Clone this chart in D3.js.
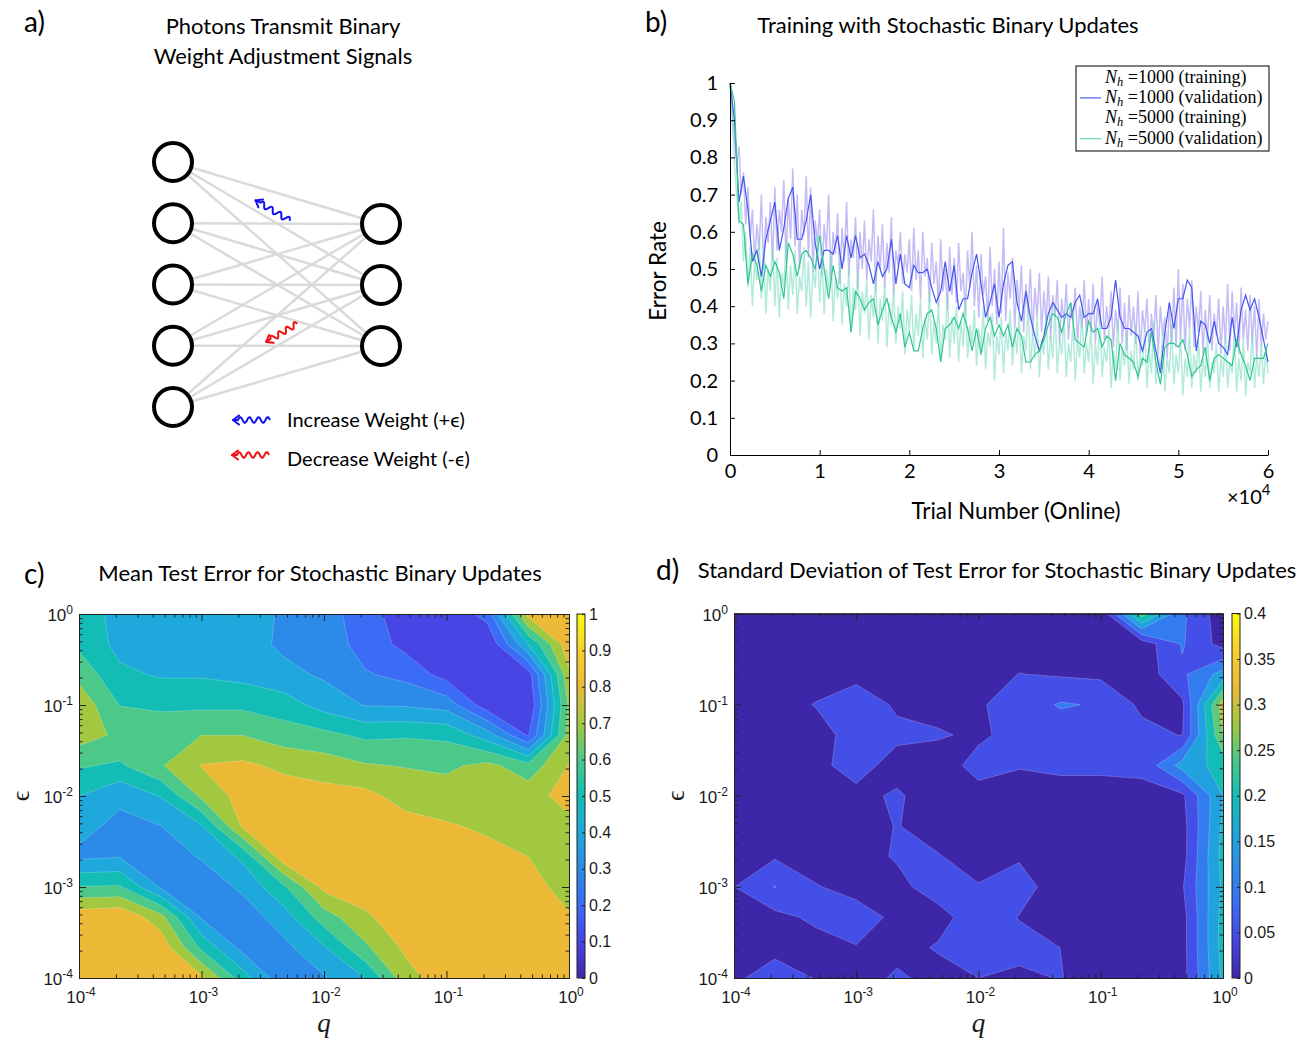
<!DOCTYPE html>
<html>
<head>
<meta charset="utf-8">
<title>Stochastic binary updates</title>
<script src="https://cdn.jsdelivr.net/npm/d3@7"></script>
<style>
  body { margin: 0; background: #fff; }
  text { font-family: Lato, "Open Sans", sans-serif; fill: #000; }
  .mat text { font-family: "Liberation Sans", Arial, sans-serif; fill: #1a1a1a; }
  .serif { font-family: "Liberation Serif", "DejaVu Serif", serif !important; }
</style>
</head>
<body>
<svg id="figure" width="1316" height="1042"></svg>
<script>

// ---------------- data ----------------

// a) network sketch: nodes per layer
const layerSizes = [5, 3];

// b) error rate vs trial number
const trainStep = 250;
const validStep = 500;

const trainErr1000 = [
    1.00, 0.93, 0.85, 0.78, 0.83, 0.70, 0.76, 0.62, 0.72, 0.58, 0.66, 0.52, 0.62, 0.55, 0.70, 0.50, 0.64, 0.57, 0.68, 0.52,
    0.72, 0.55, 0.66, 0.60, 0.74, 0.52, 0.69, 0.58, 0.77, 0.56, 0.70, 0.50, 0.66, 0.59, 0.75, 0.53, 0.72, 0.49, 0.63, 0.57,
    0.66, 0.48, 0.62, 0.55, 0.70, 0.47, 0.60, 0.54, 0.65, 0.46, 0.61, 0.52, 0.68, 0.48, 0.58, 0.53, 0.64, 0.45, 0.60, 0.50,
    0.63, 0.47, 0.58, 0.52, 0.66, 0.44, 0.59, 0.50, 0.62, 0.45, 0.57, 0.49, 0.64, 0.43, 0.55, 0.51, 0.60, 0.46, 0.54, 0.49,
    0.58, 0.44, 0.61, 0.47, 0.55, 0.42, 0.60, 0.48, 0.53, 0.41, 0.57, 0.46, 0.52, 0.40, 0.58, 0.44, 0.50, 0.39, 0.56, 0.43,
    0.53, 0.41, 0.57, 0.44, 0.49, 0.38, 0.55, 0.45, 0.60, 0.40, 0.51, 0.37, 0.54, 0.43, 0.48, 0.36, 0.56, 0.40, 0.50, 0.35,
    0.52, 0.38, 0.61, 0.36, 0.49, 0.42, 0.53, 0.34, 0.47, 0.39, 0.51, 0.33, 0.46, 0.38, 0.50, 0.32, 0.45, 0.37, 0.49, 0.33,
    0.44, 0.36, 0.48, 0.31, 0.43, 0.37, 0.47, 0.30, 0.42, 0.35, 0.46, 0.31, 0.41, 0.36, 0.45, 0.30, 0.40, 0.34, 0.47, 0.32,
    0.42, 0.33, 0.46, 0.30, 0.41, 0.35, 0.48, 0.31, 0.40, 0.34, 0.44, 0.29, 0.39, 0.33, 0.45, 0.30, 0.41, 0.28, 0.43, 0.32,
    0.40, 0.30, 0.44, 0.27, 0.39, 0.33, 0.42, 0.28, 0.38, 0.31, 0.43, 0.27, 0.40, 0.32, 0.37, 0.26, 0.41, 0.30, 0.45, 0.29,
    0.50, 0.31, 0.46, 0.28, 0.42, 0.34, 0.47, 0.29, 0.40, 0.33, 0.44, 0.27, 0.39, 0.31, 0.43, 0.28, 0.38, 0.32, 0.42, 0.27,
    0.40, 0.30, 0.46, 0.28, 0.44, 0.33, 0.41, 0.27, 0.45, 0.31, 0.39, 0.28, 0.43, 0.30, 0.40, 0.26, 0.42, 0.29, 0.38, 0.31,
    0.36
];

const trainErr5000 = [
    1.00, 0.90, 0.78, 0.70, 0.62, 0.68, 0.52, 0.60, 0.45, 0.56, 0.40, 0.52, 0.47, 0.58, 0.42, 0.55, 0.38, 0.50, 0.44, 0.57,
    0.40, 0.53, 0.37, 0.49, 0.45, 0.58, 0.39, 0.51, 0.43, 0.55, 0.38, 0.48, 0.44, 0.56, 0.40, 0.52, 0.37, 0.50, 0.45, 0.59,
    0.41, 0.54, 0.38, 0.50, 0.44, 0.55, 0.36, 0.48, 0.42, 0.52, 0.35, 0.46, 0.40, 0.50, 0.33, 0.45, 0.39, 0.49, 0.32, 0.44,
    0.38, 0.47, 0.31, 0.43, 0.37, 0.48, 0.30, 0.42, 0.36, 0.46, 0.29, 0.41, 0.35, 0.45, 0.30, 0.40, 0.34, 0.44, 0.27, 0.39,
    0.33, 0.43, 0.28, 0.38, 0.32, 0.42, 0.26, 0.37, 0.31, 0.44, 0.27, 0.36, 0.30, 0.41, 0.25, 0.35, 0.31, 0.43, 0.26, 0.37,
    0.30, 0.40, 0.25, 0.36, 0.29, 0.42, 0.26, 0.35, 0.30, 0.39, 0.24, 0.34, 0.28, 0.40, 0.23, 0.33, 0.29, 0.38, 0.20, 0.32,
    0.27, 0.37, 0.22, 0.33, 0.28, 0.39, 0.24, 0.34, 0.27, 0.38, 0.22, 0.32, 0.28, 0.41, 0.23, 0.33, 0.26, 0.37, 0.21, 0.31,
    0.27, 0.38, 0.23, 0.32, 0.26, 0.40, 0.22, 0.31, 0.27, 0.37, 0.21, 0.30, 0.25, 0.36, 0.20, 0.31, 0.26, 0.39, 0.22, 0.30,
    0.25, 0.35, 0.19, 0.30, 0.24, 0.37, 0.21, 0.29, 0.25, 0.34, 0.18, 0.28, 0.23, 0.36, 0.20, 0.29, 0.24, 0.33, 0.19, 0.28,
    0.23, 0.35, 0.20, 0.27, 0.24, 0.34, 0.18, 0.28, 0.22, 0.36, 0.19, 0.27, 0.23, 0.33, 0.17, 0.26, 0.22, 0.35, 0.19, 0.27,
    0.22, 0.32, 0.16, 0.26, 0.21, 0.34, 0.18, 0.27, 0.22, 0.31, 0.17, 0.26, 0.21, 0.33, 0.18, 0.25, 0.22, 0.30, 0.17, 0.26,
    0.21, 0.32, 0.18, 0.25, 0.22, 0.34, 0.17, 0.26, 0.20, 0.31, 0.16, 0.25, 0.22, 0.33, 0.18, 0.27, 0.21, 0.30, 0.19, 0.28,
    0.22
];

const validErr1000 = [
    1.00, 0.90, 0.68, 0.75, 0.66, 0.52, 0.55, 0.48, 0.58, 0.63,
    0.68, 0.55, 0.61, 0.69, 0.72, 0.58, 0.58, 0.63, 0.70, 0.57,
    0.50, 0.55, 0.55, 0.54, 0.59, 0.50, 0.59, 0.53, 0.59, 0.53,
    0.54, 0.51, 0.46, 0.52, 0.48, 0.50, 0.58, 0.46, 0.54, 0.46,
    0.45, 0.51, 0.49, 0.49, 0.50, 0.45, 0.41, 0.44, 0.52, 0.44,
    0.51, 0.39, 0.42, 0.42, 0.49, 0.54, 0.46, 0.37, 0.41, 0.46,
    0.37, 0.46, 0.51, 0.52, 0.41, 0.36, 0.44, 0.37, 0.32, 0.28,
    0.32, 0.38, 0.41, 0.39, 0.37, 0.38, 0.37, 0.41, 0.43, 0.37,
    0.38, 0.38, 0.42, 0.34, 0.34, 0.37, 0.47, 0.37, 0.34, 0.34,
    0.33, 0.32, 0.28, 0.33, 0.34, 0.28, 0.22, 0.33, 0.41, 0.34,
    0.42, 0.42, 0.47, 0.45, 0.28, 0.36, 0.35, 0.30, 0.36, 0.30,
    0.29, 0.27, 0.37, 0.29, 0.39, 0.43, 0.39, 0.42, 0.37, 0.31,
    0.25
];

const validErr5000 = [
    1.00, 0.95, 0.63, 0.62, 0.46, 0.54, 0.51, 0.44, 0.51, 0.48,
    0.52, 0.49, 0.42, 0.57, 0.54, 0.48, 0.54, 0.55, 0.53, 0.50,
    0.59, 0.50, 0.42, 0.51, 0.45, 0.44, 0.45, 0.33, 0.44, 0.42,
    0.39, 0.41, 0.42, 0.35, 0.39, 0.42, 0.37, 0.33, 0.38, 0.29,
    0.33, 0.28, 0.28, 0.34, 0.38, 0.39, 0.34, 0.25, 0.34, 0.35,
    0.37, 0.34, 0.38, 0.34, 0.28, 0.34, 0.27, 0.34, 0.37, 0.32,
    0.35, 0.32, 0.35, 0.29, 0.34, 0.32, 0.25, 0.25, 0.27, 0.28,
    0.31, 0.35, 0.38, 0.37, 0.33, 0.38, 0.41, 0.31, 0.30, 0.29,
    0.36, 0.33, 0.34, 0.29, 0.32, 0.31, 0.20, 0.30, 0.27, 0.26,
    0.25, 0.21, 0.26, 0.25, 0.33, 0.25, 0.19, 0.29, 0.30, 0.30,
    0.29, 0.31, 0.27, 0.21, 0.23, 0.24, 0.29, 0.20, 0.26, 0.27,
    0.26, 0.25, 0.24, 0.31, 0.27, 0.24, 0.20, 0.26, 0.26, 0.26,
    0.30
];

const trialTicks = [0, 10000, 20000, 30000, 40000, 50000, 60000];
const errorTicks = [0, 0.1, 0.2, 0.3, 0.4, 0.5, 0.6, 0.7, 0.8, 0.9, 1];

const legendEntries = [
    { units: 1000, set: 'training' },
    { units: 1000, set: 'validation' },
    { units: 5000, set: 'training' },
    { units: 5000, set: 'validation' }
];

// c), d) sweep grid: q = 10^(-4 + i/3) across, eps = 10^(-r/3) down (row 0 is eps = 1)
const gridSize = 13;
const decadeExponents = [-4, -3, -2, -1, 0];

const meanErr = [
    [0.55, 0.47, 0.45, 0.45, 0.44, 0.39, 0.35, 0.24, 0.15, 0.12, 0.24, 0.84, 0.86],
    [0.58, 0.47, 0.45, 0.45, 0.45, 0.38, 0.36, 0.26, 0.17, 0.11, 0.105, 0.50, 0.87],
    [0.67, 0.52, 0.49, 0.49, 0.47, 0.43, 0.385, 0.31, 0.27, 0.16, 0.107, 0.15, 0.78],
    [0.77, 0.597, 0.58, 0.58, 0.58, 0.55, 0.46, 0.395, 0.39, 0.36, 0.14, 0.105, 0.72],
    [0.745, 0.68, 0.67, 0.70, 0.70, 0.65, 0.63, 0.58, 0.59, 0.58, 0.45, 0.19, 0.74],
    [0.61, 0.585, 0.69, 0.805, 0.82, 0.78, 0.75, 0.71, 0.695, 0.68, 0.73, 0.64, 0.805],
    [0.50, 0.42, 0.505, 0.72, 0.84, 0.85, 0.84, 0.83, 0.76, 0.75, 0.76, 0.76, 0.84],
    [0.43, 0.375, 0.398, 0.49, 0.81, 0.86, 0.88, 0.87, 0.84, 0.81, 0.785, 0.77, 0.77],
    [0.38, 0.395, 0.34, 0.41, 0.52, 0.86, 0.87, 0.88, 0.87, 0.86, 0.83, 0.80, 0.74],
    [0.605, 0.61, 0.39, 0.33, 0.42, 0.58, 0.83, 0.86, 0.88, 0.88, 0.87, 0.84, 0.76],
    [0.87, 0.89, 0.74, 0.39, 0.34, 0.45, 0.65, 0.78, 0.87, 0.88, 0.88, 0.86, 0.81],
    [0.87, 0.88, 0.87, 0.58, 0.37, 0.37, 0.49, 0.68, 0.82, 0.86, 0.88, 0.87, 0.86],
    [0.86, 0.87, 0.86, 0.82, 0.55, 0.33, 0.39, 0.50, 0.76, 0.86, 0.87, 0.87, 0.87]
];
const meanLevels = [0, 0.1, 0.2, 0.3, 0.4, 0.5, 0.6, 0.7, 0.8, 0.9];
const meanTicks = [0, 0.1, 0.2, 0.3, 0.4, 0.5, 0.6, 0.7, 0.8, 0.9, 1];

const stdErr = [
    [0.02, 0.02, 0.02, 0.02, 0.02, 0.02, 0.02, 0.02, 0.02, 0.01, 0.28, 0.11, 0.02],
    [0.02, 0.02, 0.02, 0.02, 0.02, 0.02, 0.02, 0.03, 0.03, 0.02, 0.02, 0.105, 0.03],
    [0.02, 0.02, 0.03, 0.04, 0.03, 0.02, 0.03, 0.051, 0.045, 0.04, 0.02, 0.09, 0.17],
    [0.02, 0.03, 0.052, 0.07, 0.045, 0.03, 0.045, 0.07, 0.105, 0.095, 0.04, 0.04, 0.33],
    [0.02, 0.02, 0.03, 0.07, 0.058, 0.056, 0.04, 0.07, 0.07, 0.065, 0.065, 0.048, 0.30],
    [0.02, 0.02, 0.04, 0.065, 0.035, 0.02, 0.07, 0.053, 0.06, 0.06, 0.06, 0.17, 0.22],
    [0.02, 0.02, 0.02, 0.04, 0.055, 0.03, 0.03, 0.03, 0.03, 0.03, 0.037, 0.04, 0.20],
    [0.02, 0.02, 0.02, 0.03, 0.052, 0.03, 0.02, 0.02, 0.02, 0.02, 0.02, 0.03, 0.21],
    [0.03, 0.045, 0.03, 0.03, 0.055, 0.053, 0.03, 0.045, 0.02, 0.02, 0.02, 0.03, 0.22],
    [0.049, 0.102, 0.053, 0.035, 0.035, 0.075, 0.053, 0.07, 0.025, 0.02, 0.02, 0.045, 0.21],
    [0.03, 0.035, 0.06, 0.07, 0.04, 0.03, 0.08, 0.048, 0.03, 0.02, 0.02, 0.03, 0.22],
    [0.02, 0.035, 0.03, 0.048, 0.03, 0.055, 0.052, 0.065, 0.05, 0.02, 0.02, 0.03, 0.22],
    [0.04, 0.075, 0.048, 0.02, 0.06, 0.03, 0.05, 0.04, 0.052, 0.03, 0.02, 0.03, 0.21]
];
const stdLevels = [0, 0.05, 0.1, 0.15, 0.2, 0.25, 0.3, 0.35];
const stdTicks = [0, 0.05, 0.1, 0.15, 0.2, 0.25, 0.3, 0.35, 0.4];

// ---------------- drawing ----------------

const svg = d3.select('#figure');
const defs = svg.append('defs');

const parula = d3.piecewise(d3.interpolateRgb, [
    '#3e26a8', '#4745e3', '#3a6cf6', '#2c8be9', '#1ea8dc', '#13bdb5',
    '#4cc889', '#a2c840', '#ecb936', '#f7d02c', '#f9fb0e'
]);

function panelLabel(x, y, txt) {
    svg.append('text').attr('x', x).attr('y', y).attr('font-size', 28).text(txt);
}

function centeredTitle(x, y, txt) {
    svg.append('text').attr('x', x).attr('y', y)
        .attr('text-anchor', 'middle').attr('font-size', 22).text(txt);
}

function wavyArrow(g, x0, y0, x1, y1, color) {
    var dx = x1 - x0, dy = y1 - y0, len = Math.hypot(dx, dy);
    var ux = dx / len, uy = dy / len, nx = -uy, ny = ux;
    var waveLen = len - 5, pts = [];
    for (var s = 0; s <= waveLen; s += 0.5) {
        var a = 2.8 * Math.sin(s / waveLen * Math.PI * 7);
        pts.push([x0 + ux * s + nx * a, y0 + uy * s + ny * a]);
    }
    pts.push([x1, y1]);
    g.append('path').attr('d', d3.line()(pts))
        .attr('fill', 'none').attr('stroke', color).attr('stroke-width', 2);
    var h = 7.5, ang = 0.65;
    [-1, 1].forEach(function(sg) {
        var c = Math.cos(ang), sn = Math.sin(ang) * sg;
        var bx = -ux * c + uy * sn, by = -uy * c - ux * sn;
        g.append('line').attr('x1', x1).attr('y1', y1)
            .attr('x2', x1 + bx * h).attr('y2', y1 + by * h)
            .attr('stroke', color).attr('stroke-width', 2).attr('stroke-linecap', 'round');
    });
}

// ---- a) ----
(function() {
    var g = svg.append('g');
    panelLabel(24, 32, 'a)');
    centeredTitle(283, 34, 'Photons Transmit Binary');
    centeredTitle(283, 64, 'Weight Adjustment Signals');

    var layerX = [173, 381];
    var ys = [
        d3.scalePoint().domain(d3.range(layerSizes[0])).range([162, 407]),
        d3.scalePoint().domain(d3.range(layerSizes[1])).range([224, 346])
    ];
    var nodes = layerSizes.map(function(n, l) {
        return d3.range(n).map(function(i) { return { x: layerX[l], y: ys[l](i) }; });
    });
    var edges = d3.cross(nodes[0], nodes[1]);

    g.selectAll('line.edge').data(edges).join('line')
        .attr('class', 'edge')
        .attr('x1', d => d[0].x).attr('y1', d => d[0].y)
        .attr('x2', d => d[1].x).attr('y2', d => d[1].y)
        .attr('stroke', '#dadada').attr('stroke-width', 2.5);

    g.selectAll('circle').data(nodes.flat()).join('circle')
        .attr('cx', d => d.x).attr('cy', d => d.y).attr('r', 19)
        .attr('fill', '#fff').attr('stroke', '#000').attr('stroke-width', 4);

    // photons travelling back along two of the connections
    function onEdge(a, b, t0, t1, off, color) {
        var dx = b.x - a.x, dy = b.y - a.y, L = Math.hypot(dx, dy);
        var nx = dy / L * off, ny = -dx / L * off;
        wavyArrow(g, a.x + dx * t0 + nx, a.y + dy * t0 + ny,
            a.x + dx * t1 + nx, a.y + dy * t1 + ny, color);
    }
    onEdge(nodes[0][0], nodes[1][1], 0.54, 0.375, 9, '#1010f0');
    onEdge(nodes[0][4], nodes[1][1], 0.62, 0.47, 9, '#f01010');

    wavyArrow(g, 270, 420, 233, 420, '#1010f0');
    wavyArrow(g, 269, 455, 232, 455, '#f01010');
    g.append('text').attr('x', 287).attr('y', 427).attr('font-size', 20).text('Increase Weight (+ϵ)');
    g.append('text').attr('x', 287).attr('y', 466).attr('font-size', 20).text('Decrease Weight (-ϵ)');
})();

// ---- b) ----
(function() {
    var g = svg.append('g');
    panelLabel(645, 32, 'b)');
    centeredTitle(948, 33, 'Training with Stochastic Binary Updates');

    var x = d3.scaleLinear().domain([0, 60000]).range([730, 1268]);
    var y = d3.scaleLinear().domain([0, 1]).range([455, 83]);

    function series(step) {
        return d3.line().x((d, i) => x(i * step)).y(d => y(d));
    }

    g.append('path').datum(trainErr1000).attr('d', series(trainStep))
        .attr('fill', 'none').attr('stroke', '#9d90ee').attr('stroke-opacity', 0.6).attr('stroke-width', 1.5);
    g.append('path').datum(trainErr5000).attr('d', series(trainStep))
        .attr('fill', 'none').attr('stroke', '#7fdcc4').attr('stroke-opacity', 0.6).attr('stroke-width', 1.5);
    g.append('path').datum(validErr1000).attr('d', series(validStep))
        .attr('fill', 'none').attr('stroke', '#4456ee').attr('stroke-width', 1.2);
    g.append('path').datum(validErr5000).attr('d', series(validStep))
        .attr('fill', 'none').attr('stroke', '#2fc68e').attr('stroke-width', 1.2);

    var xAxis = g.append('g').attr('transform', 'translate(0,455)')
        .call(d3.axisBottom(x).tickValues(trialTicks).tickSize(-5).tickSizeOuter(0)
            .tickPadding(9).tickFormat(d => d / 10000));
    var yAxis = g.append('g').attr('transform', 'translate(730,0)')
        .call(d3.axisLeft(y).tickValues(errorTicks).tickSize(-5).tickSizeOuter(0)
            .tickPadding(12).tickFormat(d => (d === 0 || d === 1) ? d : d3.format('.1f')(d)));
    [xAxis, yAxis].forEach(function(a) {
        a.selectAll('text').attr('font-size', 20).attr('font-family', 'Lato, sans-serif').attr('fill', '#000');
        a.selectAll('path, line').attr('stroke', '#000');
    });

    var sci = g.append('text').attr('x', 1227).attr('y', 504).attr('font-size', 20);
    sci.append('tspan').text('×10');
    sci.append('tspan').attr('dy', -9).attr('font-size', 15).text('4');

    g.append('text').attr('transform', 'translate(666,271) rotate(-90)')
        .attr('text-anchor', 'middle').attr('font-size', 22.5).text('Error Rate');
    g.append('text').attr('x', 1016).attr('y', 519)
        .attr('text-anchor', 'middle').attr('font-size', 22.5).text('Trial Number (Online)');

    // legend
    var lineColour = { 1000: '#4a5cf0', 5000: '#5fd8aa' };
    var lg = g.append('g');
    lg.append('rect').attr('x', 1076).attr('y', 66).attr('width', 193).attr('height', 85)
        .attr('fill', '#fff').attr('stroke', '#000').attr('stroke-width', 1);
    var rows = lg.selectAll('g.row').data(legendEntries).join('g')
        .attr('class', 'row')
        .attr('transform', (d, i) => 'translate(0,' + (77.5 + i * 20.4) + ')');
    rows.filter(d => d.set === 'validation').append('line')
        .attr('x1', 1080).attr('x2', 1101).attr('y1', 0).attr('y2', 0)
        .attr('stroke', d => lineColour[d.units]).attr('stroke-width', 1.2);
    var t = rows.append('text').attr('class', 'serif').attr('x', 1105).attr('y', 5).attr('font-size', 18);
    t.append('tspan').attr('font-style', 'italic').text('N');
    t.append('tspan').attr('font-style', 'italic').attr('font-size', 12.5).attr('dy', 3).text('h');
    t.append('tspan').attr('dy', -3).text(d => ' =' + d.units + ' (' + d.set + ')');
})();

// ---- c), d) contour panels ----
var grad = defs.append('linearGradient').attr('id', 'parulaGrad')
    .attr('x1', 0).attr('y1', 1).attr('x2', 0).attr('y2', 0);
grad.selectAll('stop').data(d3.range(0, 1.0001, 0.025)).join('stop')
    .attr('offset', d => d).attr('stop-color', d => parula(d));

function powerLabel(sel) {
    sel.append('tspan').text('10');
    sel.append('tspan').attr('dy', -7).attr('font-size', 12).text(e => e);
}

function contourPanel(grid, levels, cmax, ticks, fmt, box, cbarX, id) {
    var g = svg.append('g').attr('class', 'mat');
    var qScale = d3.scaleLog().domain([1e-4, 1]).range([box.x0, box.x1]);
    var eScale = d3.scaleLog().domain([1e-4, 1]).range([box.y1, box.y0]);

    defs.append('clipPath').attr('id', 'clip-' + id).append('rect')
        .attr('x', box.x0).attr('y', box.y0)
        .attr('width', box.x1 - box.x0).attr('height', box.y1 - box.y0);

    // contour coords: grid sample k sits at k + 0.5
    var toPlot = d3.geoTransform({
        point: function(cx, cy) {
            this.stream.point(
                qScale(Math.pow(10, -4 + (cx - 0.5) / 3)),
                eScale(Math.pow(10, -(cy - 0.5) / 3)));
        }
    });
    var path = d3.geoPath(toPlot);
    var bands = d3.contours().size([gridSize, gridSize]).thresholds(levels)(grid.flat());

    g.append('g').attr('clip-path', 'url(#clip-' + id + ')')
        .selectAll('path').data(bands).join('path')
        .attr('d', path)
        .attr('fill', d => parula(d.value / cmax))
        .attr('stroke', 'rgba(255,255,255,0.35)').attr('stroke-width', 0.6);

    var majors = decadeExponents.map(e => Math.pow(10, e));
    var minors = [];
    decadeExponents.slice(0, -1).forEach(function(e) {
        for (var m = 2; m < 10; m++) minors.push(m * Math.pow(10, e));
    });

    var sides = [
        [d3.axisBottom(qScale), 'translate(0,' + box.y1 + ')'],
        [d3.axisTop(qScale), 'translate(0,' + box.y0 + ')'],
        [d3.axisLeft(eScale), 'translate(' + box.x0 + ',0)'],
        [d3.axisRight(eScale), 'translate(' + box.x1 + ',0)']
    ];
    sides.forEach(function(s) {
        g.append('g').attr('transform', s[1]).attr('color', '#222')
            .call(s[0].tickValues(minors).tickSize(-3.5).tickSizeOuter(0).tickFormat(''));
        g.append('g').attr('transform', s[1]).attr('color', '#222')
            .call(s[0].tickValues(majors).tickSize(-7).tickSizeOuter(0).tickFormat(''));
    });

    g.append('g').selectAll('text').data(decadeExponents).join('text')
        .attr('x', e => qScale(Math.pow(10, e)) + 2).attr('y', box.y1 + 25)
        .attr('text-anchor', 'middle').attr('font-size', 17)
        .call(powerLabel);
    g.append('g').selectAll('text').data(decadeExponents).join('text')
        .attr('x', box.x0 - 6).attr('y', e => eScale(Math.pow(10, e)) + 7)
        .attr('text-anchor', 'end').attr('font-size', 17)
        .call(powerLabel);

    // colour bar
    var cScale = d3.scaleLinear().domain([0, cmax]).range([box.y1, box.y0]);
    g.append('rect').attr('x', cbarX).attr('y', box.y0)
        .attr('width', 8).attr('height', box.y1 - box.y0)
        .attr('fill', 'url(#parulaGrad)').attr('stroke', '#222').attr('stroke-width', 1);
    var cb = g.append('g').attr('transform', 'translate(' + (cbarX + 8) + ',0)').attr('color', '#222')
        .call(d3.axisRight(cScale).tickValues(ticks).tickSize(-3).tickSizeOuter(0)
            .tickPadding(4).tickFormat(fmt));
    cb.select('.domain').remove();
    cb.selectAll('text').attr('font-size', 16).attr('fill', '#1a1a1a');

    // axis names
    var xMid = (box.x0 + box.x1) / 2, yMid = (box.y0 + box.y1) / 2;
    g.append('text').attr('class', 'serif').attr('x', xMid).attr('y', box.y1 + 54)
        .attr('text-anchor', 'middle').attr('font-size', 27).attr('font-style', 'italic').text('q');
    g.append('text').attr('class', 'serif')
        .attr('transform', 'translate(' + (box.x0 - 50) + ',' + yMid + ') rotate(-90)')
        .attr('text-anchor', 'middle').attr('font-size', 26).text('ϵ');
}

panelLabel(24, 584, 'c)');
centeredTitle(320, 581, 'Mean Test Error for Stochastic Binary Updates');
contourPanel(meanErr, meanLevels, 1, meanTicks, d => (d === 0 || d === 1) ? d : d3.format('.1f')(d),
    { x0: 79, x1: 569, y0: 614, y1: 978 }, 577, 'mean');

panelLabel(656, 580, 'd)');
centeredTitle(997, 578, 'Standard Deviation of Test Error for Stochastic Binary Updates');
contourPanel(stdErr, stdLevels, 0.4, stdTicks, d => d === 0 ? '0' : String(+d.toFixed(2)),
    { x0: 734, x1: 1223, y0: 613.5, y1: 978 }, 1232, 'std');

</script>
</body>
</html>
